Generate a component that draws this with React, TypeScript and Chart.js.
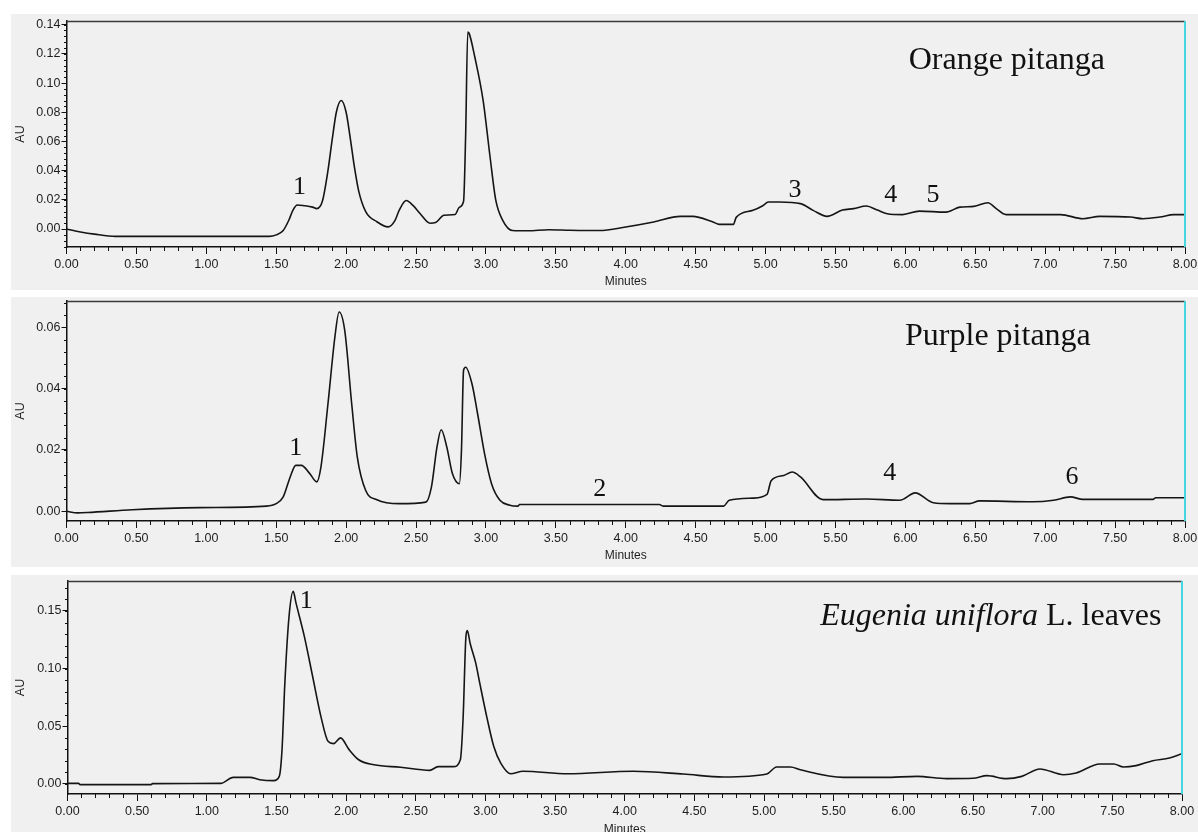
import React, { useEffect, useRef } from "react";
import { Chart, registerables } from "chart.js";

Chart.register(...registerables);

// ---------- DATA ----------
const xTickValues = [0, 0.5, 1, 1.5, 2, 2.5, 3, 3.5, 4, 4.5, 5, 5.5, 6, 6.5, 7, 7.5, 8];

// Orange pitanga
const orangeTime = [0.00, 0.10, 0.20, 0.35, 0.80, 1.20, 1.45, 1.50, 1.55, 1.59, 1.62, 1.65, 1.70, 1.76, 1.79, 1.83, 1.87, 1.90, 1.93, 1.965, 2.00, 2.03, 2.06, 2.09, 2.14, 2.22, 2.30, 2.35, 2.38, 2.43, 2.48, 2.53, 2.60, 2.64, 2.70, 2.78, 2.81, 2.84, 2.855, 2.87, 2.88, 2.92, 2.98, 3.03, 3.07, 3.12, 3.19, 3.30, 3.45, 3.60, 3.81, 4.00, 4.20, 4.39, 4.48, 4.62, 4.67, 4.77, 4.79, 4.91, 4.98, 5.02, 5.10, 5.25, 5.34, 5.44, 5.55, 5.63, 5.72, 5.80, 5.87, 5.98, 6.10, 6.29, 6.39, 6.49, 6.59, 6.65, 6.72, 7.11, 7.27, 7.39, 7.61, 7.70, 7.82, 7.92, 8.00];
const orangeAU = [0.000, -0.002, -0.0035, -0.005, -0.005, -0.005, -0.005, -0.004, -0.001, 0.006, 0.013, 0.0165, 0.016, 0.015, 0.014, 0.019, 0.040, 0.061, 0.080, 0.088, 0.080, 0.062, 0.042, 0.026, 0.012, 0.005, 0.0015, 0.006, 0.013, 0.0195, 0.016, 0.0105, 0.004, 0.0045, 0.0095, 0.010, 0.015, 0.019, 0.065, 0.135, 0.134, 0.118, 0.088, 0.049, 0.020, 0.006, -0.001, -0.0012, -0.0005, -0.0008, -0.001, 0.0014, 0.0048, 0.0087, 0.0087, 0.005, 0.0032, 0.0032, 0.008, 0.0128, 0.016, 0.0185, 0.0185, 0.0174, 0.0128, 0.0087, 0.013, 0.014, 0.0158, 0.013, 0.0105, 0.0099, 0.0123, 0.0116, 0.015, 0.0155, 0.018, 0.014, 0.0099, 0.0099, 0.0071, 0.0087, 0.0082, 0.0071, 0.0082, 0.0099, 0.0099];
const orangeYTicks = [0, 0.02, 0.04, 0.06, 0.08, 0.10, 0.12, 0.14];
const orangePeakLabels = ["1", "3", "4", "5"];
const orangePeakTime = [1.667, 5.21, 5.896, 6.197];
const orangePeakAU = [0.0242, 0.0219, 0.0185, 0.0185];

// Purple pitanga
const purpleTime = [0.00, 0.08, 0.15, 0.47, 0.95, 1.43, 1.50, 1.55, 1.60, 1.64, 1.68, 1.74, 1.79, 1.82, 1.87, 1.92, 1.95, 1.99, 2.04, 2.08, 2.14, 2.22, 2.38, 2.57, 2.61, 2.65, 2.68, 2.72, 2.76, 2.81, 2.825, 2.84, 2.855, 2.90, 2.94, 2.99, 3.04, 3.10, 3.17, 3.23, 3.24, 4.24, 4.27, 4.70, 4.74, 4.91, 5.01, 5.04, 5.13, 5.19, 5.25, 5.41, 5.72, 5.96, 6.07, 6.20, 6.32, 6.46, 6.53, 6.91, 7.06, 7.18, 7.27, 7.77, 7.79, 8.00];
const purpleAU = [0.000, -0.0005, -0.0004, 0.0005, 0.0012, 0.0017, 0.0025, 0.0047, 0.0112, 0.015, 0.015, 0.0123, 0.0096, 0.0145, 0.035, 0.057, 0.065, 0.059, 0.035, 0.0177, 0.0068, 0.0038, 0.0025, 0.003, 0.0079, 0.021, 0.0266, 0.021, 0.0123, 0.009, 0.020, 0.046, 0.047, 0.0416, 0.0319, 0.0188, 0.009, 0.0036, 0.002, 0.0017, 0.0022, 0.0022, 0.0017, 0.0017, 0.0036, 0.0043, 0.0055, 0.010, 0.0117, 0.0128, 0.0112, 0.0038, 0.004, 0.0036, 0.006, 0.0028, 0.0025, 0.0025, 0.0034, 0.0031, 0.0036, 0.0047, 0.0039, 0.0039, 0.0044, 0.0044];
const purpleYTicks = [0, 0.02, 0.04, 0.06];
const purplePeakLabels = ["1", "2", "4", "6"];
const purplePeakTime = [1.639, 3.814, 5.889, 7.191];
const purplePeakAU = [0.0183, 0.0049, 0.0103, 0.0090];

// Eugenia uniflora L. leaves
const leavesTime = [0.00, 0.08, 0.09, 0.60, 0.61, 1.10, 1.19, 1.31, 1.38, 1.48, 1.52, 1.54, 1.56, 1.59, 1.62, 1.64, 1.70, 1.76, 1.82, 1.87, 1.91, 1.96, 2.02, 2.09, 2.20, 2.39, 2.60, 2.66, 2.77, 2.82, 2.84, 2.86, 2.87, 2.89, 2.93, 2.96, 3.01, 3.06, 3.11, 3.18, 3.27, 3.59, 4.06, 4.42, 4.71, 5.02, 5.09, 5.19, 5.26, 5.57, 5.86, 6.10, 6.31, 6.50, 6.60, 6.74, 6.85, 6.98, 7.15, 7.24, 7.41, 7.51, 7.58, 7.67, 7.79, 7.91, 8.00];
const leavesAU = [0.0005, 0.0005, -0.0006, -0.0006, 0.0003, 0.0005, 0.0057, 0.0057, 0.0037, 0.0029, 0.0066, 0.030, 0.087, 0.145, 0.167, 0.157, 0.128, 0.093, 0.058, 0.037, 0.035, 0.040, 0.030, 0.021, 0.0167, 0.0145, 0.0118, 0.015, 0.015, 0.021, 0.058, 0.128, 0.133, 0.122, 0.105, 0.087, 0.058, 0.0325, 0.018, 0.0089, 0.011, 0.0089, 0.011, 0.0086, 0.006, 0.0086, 0.0147, 0.0147, 0.0123, 0.0057, 0.0057, 0.0066, 0.0046, 0.0049, 0.0072, 0.0046, 0.0066, 0.013, 0.008, 0.0095, 0.0173, 0.0173, 0.0147, 0.0159, 0.0202, 0.0225, 0.0262];
const leavesYTicks = [0, 0.05, 0.10, 0.15];
const leavesPeakLabels = ["1"];
const leavesPeakTime = [1.714];
const leavesPeakAU = [0.153];

// ---------- COMPONENTS ----------
type Seg = { text: string; italic?: boolean };

interface PanelProps {
  top: number;
  height: number;
  padTop: number;
  padRight: number;
  yAxisWidth: number;
  xAxisHeight: number;
  titlePadBottom: number;
  time: number[];
  au: number[];
  yMin: number;
  yMax: number;
  yTicks: number[];
  yMinorStep: number;
  peakLabels: string[];
  peakTime: number[];
  peakAU: number[];
  title: Seg[];
  titleTime: number;
  titleAU: number;
}

const SANS = '"Liberation Sans", Arial, sans-serif';
const SERIF = '"Liberation Serif", "Times New Roman", serif';
const W = 1187;
const TEXT = "#1e1e1e";

function Panel(p: PanelProps) {
  const ref = useRef<HTMLCanvasElement | null>(null);

  useEffect(() => {
    const canvas = ref.current;
    if (!canvas) return;

    const decor = {
      id: "decor",
      afterDraw(chart: any) {
        const { ctx, chartArea } = chart;
        const xs = chart.scales.x;
        const ys = chart.scales.y;
        ctx.save();
        // minor ticks
        ctx.strokeStyle = "#111";
        ctx.lineWidth = 1;
        ctx.beginPath();
        for (let i = 0; i <= 80; i++) {
          if (i % 5 === 0) continue;
          const px = Math.round(xs.getPixelForValue(i / 10)) + 0.5;
          ctx.moveTo(px, chartArea.bottom);
          ctx.lineTo(px, chartArea.bottom + 4);
        }
        const n0 = Math.ceil(p.yMin / p.yMinorStep - 1e-9);
        const n1 = Math.floor(p.yMax / p.yMinorStep + 1e-9);
        for (let i = n0; i <= n1; i++) {
          const v = i * p.yMinorStep;
          const py = Math.round(ys.getPixelForValue(v)) + 0.5;
          ctx.moveTo(chartArea.left, py);
          ctx.lineTo(chartArea.left - 2.5, py);
        }
        ctx.stroke();
        // top border
        ctx.strokeStyle = "#3a3a3a";
        ctx.lineWidth = 1.5;
        ctx.beginPath();
        ctx.moveTo(chartArea.left, chartArea.top + 0.5);
        ctx.lineTo(chartArea.right, chartArea.top + 0.5);
        ctx.stroke();
        // cyan right marker
        ctx.strokeStyle = "#45d6e0";
        ctx.lineWidth = 2;
        const rx = xs.getPixelForValue(8);
        ctx.beginPath();
        ctx.moveTo(rx, chartArea.top);
        ctx.lineTo(rx, chartArea.bottom);
        ctx.stroke();
        // peak labels
        ctx.fillStyle = "#111";
        ctx.textBaseline = "alphabetic";
        ctx.textAlign = "center";
        ctx.font = `26px ${SERIF}`;
        p.peakLabels.forEach((lbl, i) => {
          ctx.fillText(lbl, xs.getPixelForValue(p.peakTime[i]), ys.getPixelForValue(p.peakAU[i]));
        });
        // title
        ctx.textAlign = "left";
        const fonts = p.title.map((s) => `${s.italic ? "italic " : ""}32px ${SERIF}`);
        let total = 0;
        const widths = p.title.map((s, i) => {
          ctx.font = fonts[i];
          const w = ctx.measureText(s.text).width;
          total += w;
          return w;
        });
        let tx = xs.getPixelForValue(p.titleTime) - total / 2;
        const ty = ys.getPixelForValue(p.titleAU);
        p.title.forEach((s, i) => {
          ctx.font = fonts[i];
          ctx.fillText(s.text, tx, ty);
          tx += widths[i];
        });
        ctx.restore();
      },
    };

    const chart = new Chart(canvas, {
      type: "line",
      data: {
        datasets: [
          {
            data: p.time.map((t, i) => ({ x: t, y: p.au[i] })),
            borderColor: "#151515",
            borderWidth: 1.6,
            pointRadius: 0,
            fill: false,
            cubicInterpolationMode: "monotone",
          },
        ],
      },
      options: {
        responsive: false,
        maintainAspectRatio: false,
        animation: false,
        events: [],
        layout: { padding: { top: p.padTop, right: p.padRight, left: 0, bottom: 0 } },
        plugins: { legend: { display: false }, tooltip: { enabled: false } },
        scales: {
          x: {
            type: "linear",
            min: 0,
            max: 8,
            afterBuildTicks: (s: any) => {
              s.ticks = xTickValues.map((v) => ({ value: v }));
            },
            afterFit: (s: any) => {
              s.height = p.xAxisHeight;
              s.paddingLeft = 0;
              s.paddingRight = 0;
            },
            grid: { display: true, drawOnChartArea: false, drawTicks: true, tickLength: 7, color: "#111", tickWidth: 1 },
            border: { display: true, color: "#111", width: 1.5 },
            ticks: {
              callback: (v: any) => Number(v).toFixed(2),
              font: { family: SANS, size: 12.5 },
              color: TEXT,
              padding: 3,
              maxRotation: 0,
              autoSkip: false,
            },
            title: {
              display: true,
              text: "Minutes",
              font: { family: SANS, size: 12 },
              color: TEXT,
              padding: { top: 0, bottom: p.titlePadBottom },
            },
          },
          y: {
            type: "linear",
            min: p.yMin,
            max: p.yMax,
            afterBuildTicks: (s: any) => {
              s.ticks = p.yTicks.map((v) => ({ value: v }));
            },
            afterFit: (s: any) => {
              s.width = p.yAxisWidth;
              s.paddingTop = 0;
              s.paddingBottom = 0;
            },
            grid: { display: true, drawOnChartArea: false, drawTicks: true, tickLength: 5, color: "#111", tickWidth: 1 },
            border: { display: true, color: "#111", width: 1.5 },
            ticks: {
              callback: (v: any) => Number(v).toFixed(2),
              font: { family: SANS, size: 12.5 },
              color: TEXT,
              padding: 1,
              autoSkip: false,
            },
            title: {
              display: true,
              text: "AU",
              font: { family: SANS, size: 12.5 },
              color: TEXT,
              padding: { top: 2, bottom: 0 },
            },
          },
        },
      },
      plugins: [decor],
    } as any);

    return () => chart.destroy();
  }, []);

  return (
    <div
      style={{
        position: "absolute",
        left: 11,
        top: p.top,
        width: W,
        height: p.height,
        background: "#f0f0f0",
      }}
    >
      <canvas ref={ref} width={W} height={p.height} style={{ display: "block", width: W, height: p.height }} />
    </div>
  );
}

export default function App() {
  return (
    <div
      style={{
        position: "absolute",
        left: 0,
        top: 0,
        width: 1198,
        height: 832,
        overflow: "hidden",
        background: "#ffffff",
      }}
    >
      <Panel
        top={14}
        height={276}
        padTop={7}
        padRight={13}
        yAxisWidth={55.5}
        xAxisHeight={43}
        titlePadBottom={1}
        time={orangeTime}
        au={orangeAU}
        yMin={-0.0123}
        yMax={0.1425}
        yTicks={orangeYTicks}
        yMinorStep={0.004}
        peakLabels={orangePeakLabels}
        peakTime={orangePeakTime}
        peakAU={orangePeakAU}
        title={[{ text: "Orange pitanga" }]}
        titleTime={6.726}
        titleAU={0.1099}
      />
      <Panel
        top={297}
        height={270}
        padTop={4}
        padRight={13}
        yAxisWidth={55.5}
        xAxisHeight={46}
        titlePadBottom={4.5}
        time={purpleTime}
        au={purpleAU}
        yMin={-0.00316}
        yMax={0.0686}
        yTicks={purpleYTicks}
        yMinorStep={0.004}
        peakLabels={purplePeakLabels}
        peakTime={purplePeakTime}
        peakAU={purplePeakAU}
        title={[{ text: "Purple pitanga" }]}
        titleTime={6.662}
        titleAU={0.0541}
      />
      <Panel
        top={575}
        height={265}
        padTop={6}
        padRight={16}
        yAxisWidth={56.5}
        xAxisHeight={46}
        titlePadBottom={3.5}
        time={leavesTime}
        au={leavesAU}
        yMin={-0.0087}
        yMax={0.176}
        yTicks={leavesYTicks}
        yMinorStep={0.01}
        peakLabels={leavesPeakLabels}
        peakTime={leavesPeakTime}
        peakAU={leavesPeakAU}
        title={[{ text: "Eugenia uniflora", italic: true }, { text: " L. leaves" }]}
        titleTime={6.628}
        titleAU={0.1378}
      />
    </div>
  );
}
